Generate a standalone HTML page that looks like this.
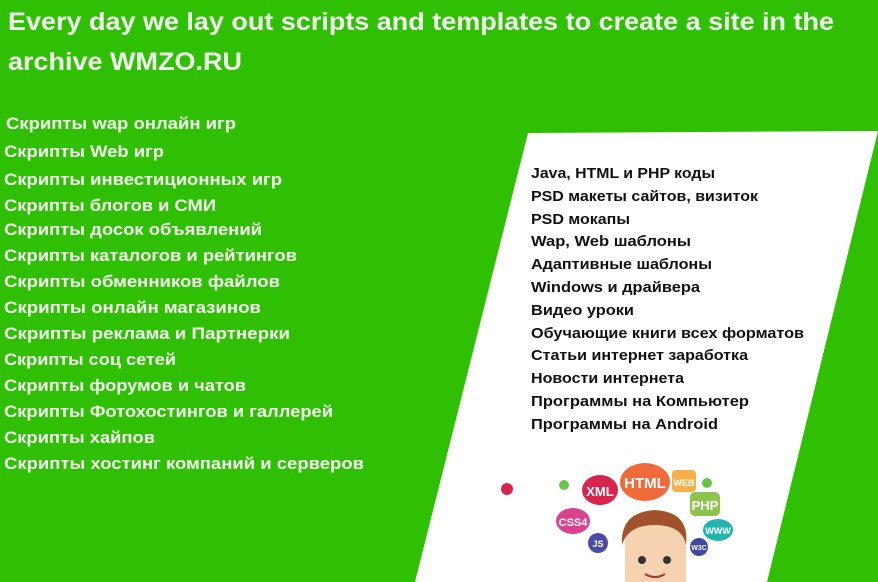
<!DOCTYPE html>
<html><head><meta charset="utf-8"><style>
html,body{margin:0;padding:0;background:#2fbf03;}
svg{display:block}
text{font-family:"Liberation Sans",sans-serif;font-weight:bold;}
</style></head><body>
<svg width="878" height="582" viewBox="0 0 878 582" xmlns="http://www.w3.org/2000/svg">
<rect width="878" height="582" fill="#2fbf03"/>
<polygon points="528,133 878,131 767,582 415,582" fill="#ffffff"/>
<g fill="#f2fff0" font-size="25">
<text x="8" y="30" textLength="826" lengthAdjust="spacingAndGlyphs">Every day we lay out scripts and templates to create a site in the</text>
<text x="8" y="70" textLength="234" lengthAdjust="spacingAndGlyphs">archive WMZO.RU</text>
</g>
<g fill="#f2fff0" font-size="17">
<text x="6" y="129" textLength="230" lengthAdjust="spacingAndGlyphs">Скрипты wap онлайн игр</text>
<text x="4" y="157" textLength="160" lengthAdjust="spacingAndGlyphs">Скрипты Web игр</text>
<text x="4" y="185" textLength="278" lengthAdjust="spacingAndGlyphs">Скрипты инвестиционных игр</text>
<text x="4" y="211" textLength="212" lengthAdjust="spacingAndGlyphs">Скрипты блогов и СМИ</text>
<text x="4" y="235" textLength="258" lengthAdjust="spacingAndGlyphs">Скрипты досок объявлений</text>
<text x="4" y="261" textLength="293" lengthAdjust="spacingAndGlyphs">Скрипты каталогов и рейтингов</text>
<text x="4" y="287" textLength="276" lengthAdjust="spacingAndGlyphs">Скрипты обменников файлов</text>
<text x="4" y="313" textLength="257" lengthAdjust="spacingAndGlyphs">Скрипты онлайн магазинов</text>
<text x="4" y="339" textLength="286" lengthAdjust="spacingAndGlyphs">Скрипты реклама и Партнерки</text>
<text x="4" y="365" textLength="172" lengthAdjust="spacingAndGlyphs">Скрипты соц сетей</text>
<text x="4" y="391" textLength="242" lengthAdjust="spacingAndGlyphs">Скрипты форумов и чатов</text>
<text x="4" y="417" textLength="329" lengthAdjust="spacingAndGlyphs">Скрипты Фотохостингов и галлерей</text>
<text x="4" y="443" textLength="151" lengthAdjust="spacingAndGlyphs">Скрипты хайпов</text>
<text x="4" y="469" textLength="360" lengthAdjust="spacingAndGlyphs">Скрипты хостинг компаний и серверов</text>
</g>
<g fill="#111" font-size="15">
<text x="531" y="178" textLength="184" lengthAdjust="spacingAndGlyphs">Java, HTML и PHP коды</text>
<text x="531" y="201" textLength="227" lengthAdjust="spacingAndGlyphs">PSD макеты сайтов, визиток</text>
<text x="531" y="224" textLength="99" lengthAdjust="spacingAndGlyphs">PSD мокапы</text>
<text x="531" y="246" textLength="160" lengthAdjust="spacingAndGlyphs">Wap, Web шаблоны</text>
<text x="531" y="269" textLength="181" lengthAdjust="spacingAndGlyphs">Адаптивные шаблоны</text>
<text x="531" y="292" textLength="169" lengthAdjust="spacingAndGlyphs">Windows и драйвера</text>
<text x="531" y="315" textLength="103" lengthAdjust="spacingAndGlyphs">Видео уроки</text>
<text x="531" y="338" textLength="273" lengthAdjust="spacingAndGlyphs">Обучающие книги всех форматов</text>
<text x="531" y="360" textLength="217" lengthAdjust="spacingAndGlyphs">Статьи интернет заработка</text>
<text x="531" y="383" textLength="153" lengthAdjust="spacingAndGlyphs">Новости интернета</text>
<text x="531" y="406" textLength="218" lengthAdjust="spacingAndGlyphs">Программы на Компьютер</text>
<text x="531" y="429" textLength="187" lengthAdjust="spacingAndGlyphs">Программы на Android</text>
</g>
<!-- icon cluster -->
<ellipse cx="645" cy="482" rx="25" ry="19" fill="#f06a3a"/>
<text x="645" y="488" font-size="15" fill="#fff" text-anchor="middle">HTML</text>
<ellipse cx="600" cy="490" rx="18" ry="15" fill="#d8254e"/>
<text x="600" y="496" font-size="13" fill="#fff" text-anchor="middle">XML</text>
<rect x="672" y="470" width="24" height="22" rx="4" fill="#f5b04a"/>
<text x="684" y="486" font-size="9" fill="#fff" text-anchor="middle">WEB</text>
<circle cx="707" cy="483" r="5" fill="#6cc24a"/>
<rect x="690" y="492" width="30" height="24" rx="5" fill="#8dc44d"/>
<text x="705" y="510" font-size="13" fill="#fff" text-anchor="middle">PHP</text>
<ellipse cx="573" cy="521" rx="17" ry="13" fill="#d9428f"/>
<text x="573" y="526" font-size="11" fill="#fff" text-anchor="middle">CSS4</text>
<circle cx="598" cy="543" r="10" fill="#4a4aa8"/>
<text x="598" y="547" font-size="9" fill="#fff" text-anchor="middle">JS</text>
<ellipse cx="718" cy="530" rx="15" ry="11" fill="#22b4b0"/>
<text x="718" y="534" font-size="9" fill="#fff" text-anchor="middle">WWW</text>
<circle cx="699" cy="547" r="9" fill="#3b4aa0"/>
<text x="699" y="550" font-size="7" fill="#fff" text-anchor="middle">W3C</text>
<circle cx="507" cy="489" r="6" fill="#d8254e"/>
<circle cx="564" cy="485" r="5" fill="#6cc24a"/>
<!-- face -->
<path d="M625,582 L625,540 Q627,515 655,512 Q680,512 686,535 L686,582 Z" fill="#f6d2b0"/>
<path d="M622,545 Q620,512 655,510 Q690,512 686,545 Q682,525 655,525 Q628,525 622,545 Z" fill="#a0522d"/>
<circle cx="642" cy="560" r="4" fill="#333"/>
<circle cx="667" cy="560" r="4" fill="#333"/>
<path d="M645,574 Q655,580 665,574" stroke="#a33" stroke-width="2" fill="none"/>
</svg>
</body></html>
